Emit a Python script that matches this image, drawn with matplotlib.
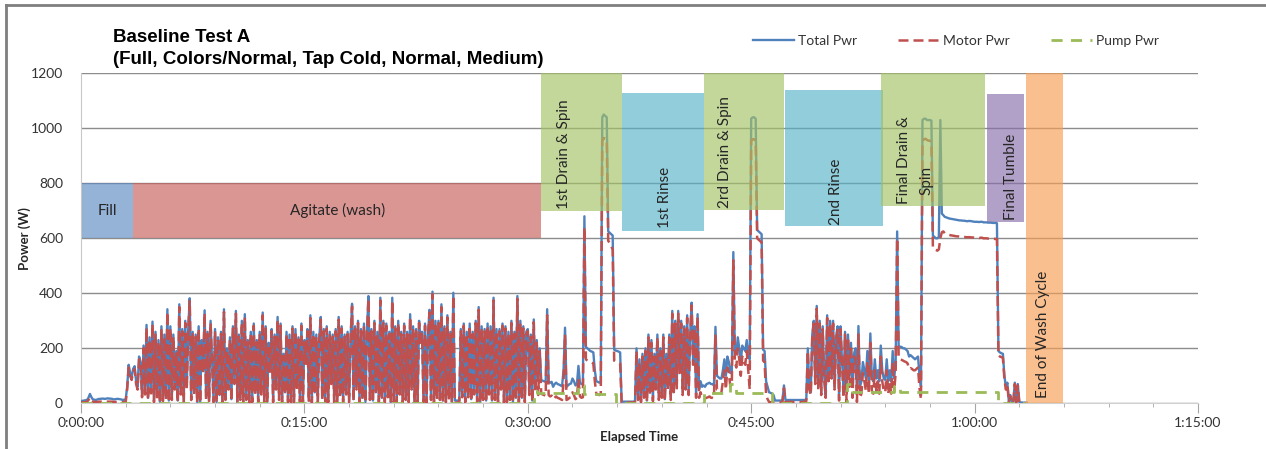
#!/usr/bin/env python3
"""Baseline Test A: washer power trace with the cycle phases marked on top."""
import numpy as np
import matplotlib

matplotlib.use("Agg")
import matplotlib.pyplot as plt
from matplotlib.lines import Line2D
from matplotlib.patches import Rectangle
from matplotlib.ticker import FuncFormatter, MultipleLocator

SAMPLE_MIN = 0.1  # logger interval in minutes

# power readings (W), one every SAMPLE_MIN, twenty per row = 2 minutes per row
TOTAL_PWR = [
    8, 9, 10, 11, 12, 20, 34, 22, 14, 13, 12, 14, 16, 16, 17, 17, 16, 17, 18, 17,
    17, 16, 14, 15, 16, 16, 15, 14, 12, 13, 14, 60, 140, 110, 95, 125, 135, 80, 60, 170,
    150, 30, 210, 40, 285, 20, 240, 45, 297, 10, 260, 25, 230, 5, 280, 15, 250, 20, 342, 10,
    280, 20, 250, 60, 190, 10, 360, 40, 270, 10, 300, 60, 270, 382, 20, 260, 40, 250, 5, 280,
    5, 230, 120, 338, 20, 260, 10, 300, 160, 10, 270, 5, 240, 30, 260, 10, 342, 20, 200, 60,
    240, 15, 280, 80, 336, 5, 250, 20, 300, 10, 324, 20, 230, 5, 260, 10, 290, 40, 230, 10,
    260, 40, 330, 10, 280, 5, 220, 120, 270, 10, 250, 60, 314, 20, 290, 5, 180, 40, 260, 10,
    250, 10, 280, 5, 270, 60, 240, 10, 290, 5, 230, 150, 270, 10, 320, 5, 260, 40, 250, 10,
    240, 314, 20, 270, 5, 280, 10, 260, 80, 250, 10, 270, 5, 314, 30, 280, 10, 250, 40, 260,
    10, 240, 362, 15, 280, 60, 300, 5, 270, 20, 290, 5, 260, 390, 20, 270, 10, 300, 40, 260,
    10, 384, 20, 300, 10, 290, 30, 260, 5, 384, 10, 280, 5, 300, 40, 260, 10, 290, 20, 260,
    10, 324, 60, 280, 5, 270, 10, 300, 220, 260, 10, 290, 5, 250, 340, 20, 406, 10, 300, 20,
    300, 20, 360, 10, 280, 10, 320, 20, 260, 5, 402, 10, 10, 10, 10, 270, 30, 290, 10, 260,
    30, 290, 15, 260, 40, 300, 10, 350, 5, 280, 20, 270, 10, 290, 40, 280, 10, 384, 20, 270,
    10, 270, 60, 290, 5, 280, 10, 260, 20, 300, 5, 260, 20, 390, 10, 300, 20, 280, 10, 260,
    270, 40, 250, 10, 305, 60, 230, 80, 200, 85, 82, 80, 78, 342, 80, 75, 78, 60, 70, 75,
    70, 68, 65, 62, 120, 275, 60, 65, 70, 72, 90, 80, 65, 70, 136, 75, 70, 72, 680, 205,
    200, 195, 190, 188, 185, 120, 80, 78, 75, 80, 1040, 1050, 1045, 1040, 625, 620, 615, 610, 195, 192,
    190, 188, 185, 6, 6, 6, 6, 6, 6, 6, 6, 6, 8, 200, 20, 160, 10, 180, 30, 200,
    10, 250, 40, 230, 15, 180, 60, 250, 20, 200, 30, 250, 15, 180, 60, 250, 20, 336, 40, 300,
    60, 336, 120, 300, 40, 280, 60, 320, 40, 250, 366, 150, 280, 30, 324, 50, 80, 60, 65, 60,
    70, 72, 75, 70, 70, 65, 278, 100, 95, 90, 90, 120, 160, 100, 170, 150, 110, 120, 550, 190,
    180, 240, 200, 150, 210, 200, 190, 230, 170, 160, 1035, 1040, 1040, 1035, 630, 625, 620, 615, 195, 190,
    80, 60, 40, 38, 35, 30, 10, 10, 10, 10, 10, 12, 65, 12, 12, 12, 12, 12, 12, 12,
    12, 12, 12, 12, 12, 12, 12, 15, 200, 60, 40, 250, 300, 80, 354, 60, 300, 40, 280, 100,
    30, 320, 80, 300, 100, 300, 60, 240, 280, 20, 280, 150, 60, 260, 40, 250, 100, 220, 60, 180,
    200, 40, 281, 60, 80, 150, 120, 90, 190, 80, 254, 90, 80, 160, 90, 120, 80, 210, 120, 90,
    85, 160, 80, 120, 80, 190, 90, 150, 625, 210, 205, 205, 200, 200, 195, 190, 170, 175, 170, 165,
    160, 165, 170, 100, 60, 1030, 1035, 1035, 1030, 1030, 1030, 1028, 610, 605, 600, 600, 605, 1030, 690, 684,
    678, 676, 674, 672, 671, 670, 669, 668, 667, 666, 665, 665, 664, 664, 663, 662, 663, 663, 662, 661,
    660, 660, 660, 659, 660, 660, 658, 658, 658, 657, 657, 657, 656, 656, 656, 655, 190, 185, 182, 180,
    100, 60, 75, 5, 30, 5, 5, 75, 5, 70, 5, 3, 3, 2, 2, 2,
]

MOTOR_PWR = [
    3, 3, 4, 4, 5, 12, 20, 10, 6, 5, 5, 5, 6, 6, 6, 6, 5, 6, 6, 6,
    6, 6, 5, 5, 5, 5, 5, 5, 4, 4, 5, 50, 130, 100, 85, 115, 125, 70, 50, 160,
    140, 22, 200, 32, 275, 12, 230, 36, 288, 4, 250, 16, 222, 2, 270, 8, 240, 12, 332, 4,
    272, 12, 242, 50, 182, 4, 350, 32, 262, 4, 292, 50, 262, 372, 12, 252, 32, 242, 2, 272,
    2, 222, 110, 328, 12, 252, 4, 292, 150, 4, 262, 2, 232, 22, 252, 4, 332, 12, 192, 50,
    232, 8, 272, 70, 326, 2, 242, 12, 292, 4, 314, 12, 222, 2, 252, 4, 282, 32, 222, 4,
    252, 32, 320, 4, 272, 2, 212, 110, 262, 4, 242, 50, 304, 12, 282, 2, 172, 32, 252, 4,
    242, 4, 272, 2, 262, 50, 232, 4, 282, 2, 222, 140, 262, 4, 310, 2, 252, 32, 242, 4,
    232, 304, 12, 262, 2, 272, 4, 252, 70, 242, 4, 262, 2, 304, 22, 272, 4, 242, 32, 252,
    4, 232, 352, 8, 272, 50, 292, 2, 262, 12, 282, 2, 252, 380, 12, 262, 4, 292, 32, 252,
    4, 374, 12, 292, 4, 282, 22, 252, 2, 374, 4, 272, 2, 292, 32, 252, 4, 282, 12, 252,
    4, 314, 50, 272, 2, 262, 4, 292, 212, 252, 4, 282, 2, 242, 330, 12, 396, 4, 292, 12,
    292, 12, 350, 4, 272, 4, 312, 12, 252, 2, 392, 3, 3, 3, 3, 262, 22, 282, 4, 252,
    22, 282, 8, 252, 32, 292, 4, 340, 2, 272, 12, 262, 4, 282, 32, 272, 4, 374, 12, 262,
    4, 262, 50, 282, 2, 272, 4, 252, 12, 292, 2, 252, 12, 380, 4, 292, 12, 272, 4, 252,
    262, 30, 242, 4, 295, 40, 220, 30, 190, 35, 32, 30, 28, 320, 30, 25, 28, 15, 20, 25,
    20, 18, 15, 12, 80, 250, 12, 15, 20, 22, 40, 30, 15, 20, 90, 25, 20, 22, 640, 160,
    155, 152, 150, 148, 145, 80, 35, 32, 30, 35, 955, 965, 962, 958, 590, 585, 570, 560, 155, 152,
    150, 148, 145, 3, 3, 3, 3, 3, 3, 3, 3, 3, 4, 190, 12, 150, 4, 170, 20, 190,
    5, 240, 30, 220, 8, 170, 50, 240, 12, 190, 20, 240, 8, 170, 50, 240, 12, 326, 30, 290,
    50, 326, 110, 290, 30, 270, 50, 310, 30, 240, 356, 140, 270, 20, 314, 20, 40, 20, 20, 18,
    20, 22, 25, 20, 20, 18, 250, 50, 48, 40, 40, 80, 120, 50, 130, 110, 60, 70, 520, 150,
    130, 200, 160, 100, 170, 150, 140, 190, 120, 50, 955, 960, 960, 955, 600, 595, 590, 585, 155, 150,
    30, 15, 5, 4, 3, 3, 3, 3, 3, 3, 3, 4, 55, 5, 5, 5, 5, 5, 5, 5,
    5, 5, 5, 5, 5, 5, 5, 8, 190, 50, 30, 240, 290, 70, 344, 50, 290, 30, 270, 90,
    20, 310, 70, 290, 90, 290, 50, 230, 270, 10, 270, 140, 20, 250, 5, 240, 60, 210, 20, 170,
    160, 5, 250, 20, 35, 110, 80, 45, 150, 35, 220, 45, 35, 120, 45, 80, 35, 170, 80, 45,
    40, 120, 35, 80, 35, 150, 45, 110, 600, 165, 160, 158, 155, 152, 150, 145, 125, 128, 125, 120,
    120, 125, 130, 55, 15, 955, 960, 962, 958, 955, 955, 950, 565, 560, 558, 555, 560, 600, 622, 625,
    618, 616, 614, 612, 611, 610, 609, 608, 607, 607, 606, 606, 605, 605, 604, 604, 604, 604, 603, 603,
    602, 602, 602, 601, 602, 602, 600, 600, 600, 599, 599, 599, 598, 598, 598, 597, 175, 170, 168, 165,
    90, 50, 70, 3, 25, 3, 3, 70, 3, 65, 3, 2, 2, 1, 1, 1,
]

# pump runs as steps: level from each time (min) until the next
PUMP_T = [0, 30.4, 30.6, 33.4, 33.8, 35.9, 41.8, 43.6, 44.0, 46.4,
          51.4, 51.8, 54.6, 55.0, 61.6, 63.5]
PUMP_W = [0, 45, 36, 68, 34, 0, 36, 70, 36, 0,
          70, 40, 64, 40, 0, 0]

# cycle phases: start/end (min), low/high (W)
PHASE_START = [0.1, 3.5, 30.9, 36.3, 41.8, 47.3, 53.7, 60.8, 63.45]
PHASE_END = [3.5, 30.9, 36.3, 41.8, 47.2, 53.85, 60.7, 63.3, 65.95]
PHASE_LOW = [600, 600, 700, 628, 702, 644, 717, 660, 0]
PHASE_HIGH = [800, 800, 1200, 1130, 1200, 1141, 1200, 1123, 1200]

FONT = ["Lato", "DejaVu Sans"]
INK = "#262626"
BLUE, RED, GREEN = "#4F81BD", "#C0504D", "#9BBB59"
# base colours drawn at ALPHA so that over white they match the Excel fills
ALPHA = 0.65
PHASE_COLORS = ["#5C8AC2", "#C65E5A", "#A4C265", "#57B2C9", "#A4C265",
                "#57B2C9", "#A4C265", "#876DA9", "#F79D53"]

W, H = 1266, 449


def hms(v, _):
    m = int(round(v))
    return f"{m // 60}:{m % 60:02d}:00"


def main():
    fig = plt.figure(figsize=(W / 100, H / 100), dpi=100)
    ax = fig.add_axes([81 / W, 1 - 403.3 / H, 1117 / W, 330 / H])

    t = np.arange(len(TOTAL_PWR)) * SAMPLE_MIN
    ax.plot(t, TOTAL_PWR, color=BLUE, lw=1.7, zorder=3, label="Total Pwr")
    ax.plot(t, MOTOR_PWR, color=RED, lw=1.8, ls=(0, (4, 2)), zorder=4,
            label="Motor Pwr")
    ax.step(PUMP_T, PUMP_W, where="post", color=GREEN, lw=2.0, ls=(0, (4, 3)),
            zorder=5, label="Pump Pwr")

    for x0, x1, lo, hi, c in zip(PHASE_START, PHASE_END, PHASE_LOW, PHASE_HIGH,
                                 PHASE_COLORS):
        ax.add_patch(Rectangle((x0, lo), x1 - x0, hi - lo, fc=c, ec="none",
                               alpha=ALPHA, zorder=6))

    txt = dict(family=FONT, fontsize=11, color=INK, zorder=7)
    ax.text(1.8, 700, "Fill", ha="center", va="center", **txt)
    ax.text(17.2, 700, "Agitate (wash)", ha="center", va="center", **txt)
    rot = dict(rotation=90, ha="center", va="bottom", **txt)
    ax.text(32.43, 708, "1st Drain & Spin", **rot)
    ax.text(39.18, 636, "1st Rinse", **rot)
    ax.text(43.24, 710, "2rd Drain & Spin", **rot)
    ax.text(50.69, 650, "2nd Rinse", **rot)
    ax.text(55.26, 726, "Final Drain &", **rot)
    ax.text(56.77, 757, "Spin", **rot)
    ax.text(62.45, 668, "Final Tumble", **rot)
    ax.text(64.6, 20, "End of Wash Cycle", **rot)

    ax.set_xlim(0, 75)
    ax.set_ylim(0, 1200)
    ax.xaxis.set_major_locator(MultipleLocator(15))
    ax.xaxis.set_minor_locator(MultipleLocator(3))
    ax.xaxis.set_major_formatter(FuncFormatter(hms))
    ax.yaxis.set_major_locator(MultipleLocator(200))
    ax.grid(axis="y", color="#8c8c8c", lw=1.0, zorder=1)
    ax.set_axisbelow(True)
    for s in ("top", "right"):
        ax.spines[s].set_visible(False)
    ax.spines["left"].set_color("#c8c8c8")
    ax.spines["bottom"].set_color("#d0d0d0")
    ax.tick_params(axis="x", which="major", length=7, color="#a6a6a6", pad=3)
    ax.tick_params(axis="x", which="minor", length=3, color="#a6a6a6")
    ax.tick_params(axis="y", length=0, pad=13)
    for lab in ax.get_xticklabels() + ax.get_yticklabels():
        lab.set_family(FONT)
        lab.set_fontsize(10)
        lab.set_color("#333333")

    ax.set_ylabel("Power (W)", family=FONT, fontsize=9.5, weight="bold",
                  color=INK, labelpad=0)
    ax.set_xlabel("Elapsed Time", family=FONT, fontsize=9.5, weight="bold",
                  color=INK, labelpad=1)

    title = dict(family=["Liberation Sans", "DejaVu Sans"], fontsize=13.5,
                 weight="bold", color="black", ha="left", va="center")
    fig.text(113 / W, 1 - 38 / H, "Baseline Test A", **title)
    fig.text(113 / W, 1 - 59 / H, "(Full, Colors/Normal, Tap Cold, Normal, Medium)",
             **title)

    fig.legend(loc="center", bbox_to_anchor=(956 / W, 1 - 41 / H), ncol=3,
               frameon=False, handlelength=2.9, columnspacing=3.0,
               handletextpad=0.3, prop=dict(family=FONT, size=10),
               labelcolor="#333333")

    # chart-area border
    fig.add_artist(Line2D([6 / W, 1.0], [1 - 5 / H, 1 - 5 / H], color="#7f7f7f",
                          lw=2.0, transform=fig.transFigure))
    fig.add_artist(Line2D([6 / W, 6 / W], [0.0, 1 - 5 / H], color="#7f7f7f",
                          lw=2.0, transform=fig.transFigure))

    fig.savefig("out.png", dpi=100, facecolor="white")


if __name__ == "__main__":
    main()
